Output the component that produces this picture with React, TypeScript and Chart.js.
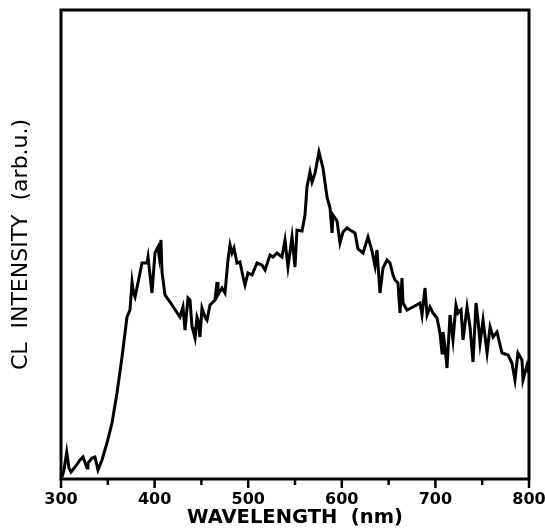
import React, { useEffect, useRef } from "react";
import { Chart, registerables } from "chart.js";

Chart.register(...registerables);

// Wavelength (nm) and CL intensity (arb. units)
const wavelength = [
  301.1, 303.2, 306.1, 308.5, 310.7, 315.0, 320.3, 323.5, 327.8, 328.8, 333.1, 336.3, 339.5, 343.8,
  349.1, 354.5, 359.8, 365.2, 370.5, 373.7, 375.9, 377.5, 379.1, 384.4, 386.5, 391.9, 393.0, 397.2, 400.4,
  403.6, 405.0, 406.8, 407.9, 411.1, 416.5, 427.1, 430.3, 432.5, 435.7, 437.8, 440.0, 441.0, 443.2, 445.3,
  446.4, 448.5, 450.6, 453.9, 456.0, 459.2, 464.5, 466.7, 467.7, 472.0, 475.2, 478.4, 480.6, 482.7,
  484.8, 488.0, 491.2, 494.5, 496.6, 499.8, 504.1, 509.4, 514.7, 518.0, 523.3, 526.5, 530.8, 536.1,
  539.3, 542.5, 546.8, 550.0, 552.1, 557.5, 560.7, 562.8, 566.0, 568.2, 571.4, 575.6, 579.9, 584.2,
  587.4, 589.6, 590.6, 594.9, 598.1, 601.3, 605.6, 608.8, 614.1, 617.3, 622.7, 628.0, 632.3, 635.5,
  637.6, 640.8, 644.0, 648.3, 651.5, 654.7, 656.8, 660.0, 662.2, 664.3, 665.4, 669.7, 676.1, 683.6,
  685.7, 688.9, 691.1, 694.2, 697.4, 701.7, 704.9, 707.1, 708.1, 710.3, 712.4, 715.6, 718.8, 722.0,
  724.2, 727.4, 729.5, 733.8, 737.0, 740.2, 743.4, 745.5, 747.7, 750.9, 755.2, 758.4, 761.6, 765.8,
  771.2, 777.6, 781.8, 785.0, 788.2, 792.5, 793.6, 797.9, 800.0,
];

const intensity = [
  2, 9, 27, 11, 7, 12, 19, 22, 11, 16, 21, 22, 9, 19,
  36, 56, 86, 122, 162, 169, 197, 186, 182, 206, 216, 216, 222, 186, 226,
  232, 222, 239, 207, 184, 177, 162, 172, 149, 181, 179, 152, 149, 141, 162,
  159, 142, 171, 162, 159, 174, 179, 197, 184, 191, 186, 219, 234, 226,
  231, 216, 217, 202, 194, 206, 204, 216, 214, 209, 224, 222, 226, 222,
  239, 212, 242, 212, 249, 248, 264, 292, 307, 297, 306, 327, 311, 282,
  271, 246, 264, 258, 236, 247, 251, 249, 246, 230, 226, 242, 228, 213,
  229, 186, 211, 219, 216, 204, 199, 196, 166, 201, 176, 169, 172, 176,
  164, 191, 164, 172, 166, 161, 146, 126, 147, 132, 111, 164, 139, 174,
  166, 169, 139, 172, 152, 117, 176, 159, 136, 159, 126, 152, 142, 147,
  126, 124, 116, 99, 126, 119, 99, 114, 106,
];

const xMin = 300;
const xMax = 800;
const xStep = 50;
const xLabelStep = 100;
const yMin = 0;
const yMax = 469;

const xTitle = "WAVELENGTH  (nm)";
const yTitle = "CL  INTENSITY  (arb.u.)";

const framePlugin = {
  id: "frameAndTicks",
  afterDraw(chart: any) {
    const { ctx, chartArea, scales } = chart;
    const x = scales.x;
    ctx.save();
    ctx.strokeStyle = "#000";
    ctx.fillStyle = "#000";
    ctx.lineWidth = 3;
    ctx.strokeRect(chartArea.left, chartArea.top, chartArea.right - chartArea.left, chartArea.bottom - chartArea.top);
    for (let v = xMin; v <= xMax; v += xStep) {
      const px = x.getPixelForValue(v);
      const len = v % xLabelStep === 0 ? 9 : 6;
      ctx.fillRect(px - 1.25, chartArea.bottom, 2.5, len);
    }
    ctx.restore();
  },
};

export default function App() {
  const canvasRef = useRef<HTMLCanvasElement | null>(null);

  useEffect(() => {
    if (!canvasRef.current) return;
    const data = wavelength.map((w, i) => ({ x: w, y: intensity[i] }));
    const chart = new Chart(canvasRef.current, {
      type: "line",
      data: {
        datasets: [
          {
            data,
            borderColor: "#000",
            borderWidth: 3,
            pointRadius: 0,
            tension: 0,
            fill: false,
          },
        ],
      },
      options: {
        animation: false,
        responsive: true,
        maintainAspectRatio: false,
        layout: { padding: { left: 0, right: 16, top: 10, bottom: 0 } },
        plugins: { legend: { display: false }, tooltip: { enabled: false } },
        scales: {
          x: {
            type: "linear",
            min: xMin,
            max: xMax,
            grid: { display: false, drawTicks: false },
            border: { display: false },
            ticks: {
              stepSize: xStep,
              autoSkip: false,
              maxRotation: 0,
              padding: 11,
              color: "#000",
              font: { family: "'DejaVu Sans', sans-serif", size: 16, weight: "bold" },
              callback: (v: any) => (Number(v) % xLabelStep === 0 ? String(v) : ""),
            },
            title: {
              display: true,
              text: xTitle,
              color: "#000",
              padding: { top: 0, bottom: 0 },
              font: { family: "'DejaVu Sans', sans-serif", size: 19.5, weight: "bold" },
            },
            afterFit: (s: any) => {
              s.height = 51;
              s.paddingLeft = 0;
              s.paddingRight = 0;
            },
          },
          y: {
            min: yMin,
            max: yMax,
            grid: { display: false, drawTicks: false },
            border: { display: false },
            ticks: { display: false },
            title: {
              display: true,
              text: yTitle,
              color: "#000",
              padding: { top: 8, bottom: 0 },
              font: { family: "'DejaVu Sans', sans-serif", size: 22, weight: "normal" },
            },
            afterFit: (s: any) => {
              s.width = 61;
              s.paddingTop = 0;
              s.paddingBottom = 0;
            },
          },
        },
      } as any,
      plugins: [framePlugin],
    });
    return () => chart.destroy();
  }, []);

  return (
    <div style={{ position: "fixed", left: 0, top: 0, width: 545, height: 530, background: "#fff" }}>
      <canvas ref={canvasRef} />
    </div>
  );
}
